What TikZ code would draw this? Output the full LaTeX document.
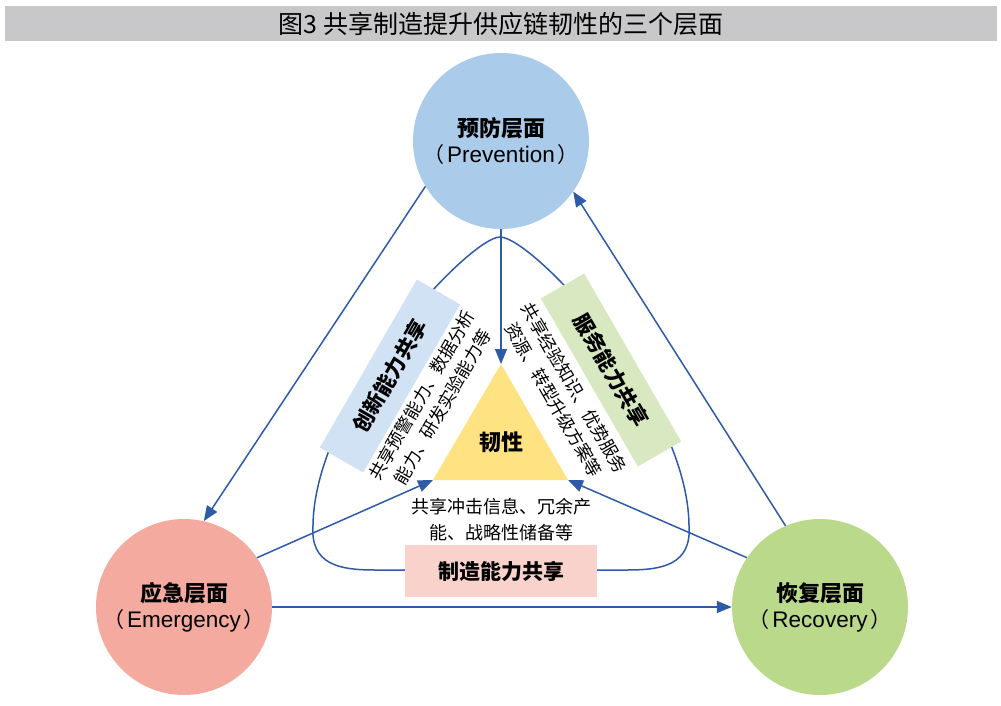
\documentclass[tikz,border=0pt]{standalone}
\usepackage{fontspec}
\setmainfont{Liberation Sans}
\newfontfamily\cjk{Noto Sans CJK SC}
\newfontfamily\latf{Liberation Sans}
\usetikzlibrary{arrows.meta}
\definecolor{lc}{HTML}{2E5BA8}
\definecolor{tgray}{HTML}{C8C8CA}
\definecolor{ctop}{HTML}{AACBE9}
\definecolor{cleft}{HTML}{F4AA9E}
\definecolor{cright}{HTML}{BBD98A}
\definecolor{tri}{HTML}{FFE282}
\definecolor{bblue}{HTML}{D1E2F4}
\definecolor{bgreen}{HTML}{D8E9C2}
\definecolor{bpink}{HTML}{F9D2CC}
\newcommand\engl[1]{（\hspace{3pt}{\latf\fontsize{22.5}{26}\selectfont #1}\hspace{3pt}）}
\begin{document}
\begin{tikzpicture}[x=1pt,y=-1pt,
  arr/.style={draw=lc, line width=1.5pt, -{Triangle[length=15pt,width=12pt]}},
  circ/.style={circle, minimum size=176pt, inner sep=0pt, align=center, font=\cjk\fontsize{21}{26}\selectfont},
  rbox/.style={minimum width=194pt, minimum height=50pt, inner sep=0pt, font=\cjk\bfseries\fontsize{21}{24}\selectfont},
  desc/.style={align=center, inner sep=0pt, font=\cjk\fontsize{17.5}{24}\selectfont}]
\useasboundingbox (0,0) rectangle (1001,706);
% title
\fill[tgray] (5,6) rectangle (997,41);
\node[font=\cjk\fontsize{25}{28}\selectfont, inner sep=0pt] (title) at (501,24) {图3 共享制造提升供应链韧性的三个层面};
% inner rounded loop
\draw[lc, line width=1.5pt] (500,237) .. controls (470,237) and (315,400) .. (313,525)
  .. controls (310,565) and (340,570) .. (375,570) -- (627,570)
  .. controls (662,570) and (692,565) .. (689,525)
  .. controls (687,400) and (532,237) .. (500,237);
% triangle
\coordinate (apex) at (501,364);
\coordinate (bl) at (433,480);
\coordinate (br) at (568,480);
\fill[tri] (apex) -- (bl) -- (br) -- cycle;
\node[font=\cjk\bfseries\fontsize{22}{26}\selectfont] (core) at (501,442) {韧性};
% circles
\node[circ, fill=ctop] (P) at (501,141) {{\bfseries\fontsize{22}{26}\selectfont 预防层面}\\\engl{Prevention}};
\node[circ, fill=cleft] (E) at (184,607) {{\bfseries\fontsize{22}{26}\selectfont 应急层面}\\\engl{Emergency}};
\node[circ, fill=cright] (R) at (820,607) {{\bfseries\fontsize{22}{26}\selectfont 恢复层面}\\\engl{Recovery}};
% arrows
\draw[arr] (P.south) -- (apex);
\draw[arr] (E.34) -- (bl);
\draw[arr] (R.146) -- (br);
\draw[arr] (P.211) -- (E.77);
\draw[arr] (R.113) -- (P.325);
\draw[arr] (E.east) -- (R.west);
% boxes
\node[rbox, fill=bblue, rotate=60] (inn) at (390,376) {创新能力共享};
\node[rbox, fill=bgreen, rotate=-60] (srv) at (611,370) {服务能力共享};
\node[rbox, fill=bpink, minimum width=192pt, minimum height=52pt] (mfg) at (501,571) {制造能力共享};
% descriptions
\node[desc, rotate=60] (innd) at (432,401) {共享预警能力、数据分析\\能力、研发实验能力等};
\node[desc, rotate=-60] (srvd) at (564,394) {共享经验知识、优势服务\\资源、转型升级方案等};
\node[desc, font=\cjk\fontsize{18}{26}\selectfont] (mfgd) at (501,520) {共享冲击信息、冗余产\\能、战略性储备等};
\end{tikzpicture}
\end{document}
